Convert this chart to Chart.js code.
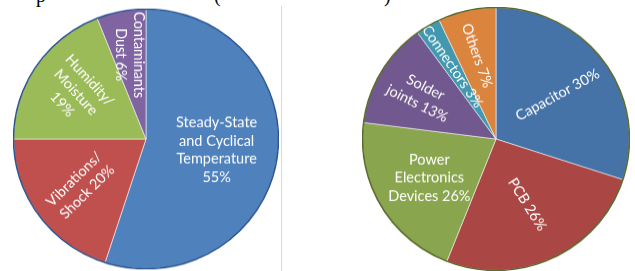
<!DOCTYPE html>
<html>
<head>
<meta charset="utf-8">
<script src="https://cdn.jsdelivr.net/npm/chart.js@4/dist/chart.umd.min.js"></script>
<style>
  body{margin:0;background:#fff;width:635px;height:271px;overflow:hidden;position:relative;}
  canvas{position:absolute;transform-origin:50% 50%;}
  .cut{position:absolute;font-family:"Liberation Serif",serif;font-size:20px;line-height:20px;color:#000;}
  #sep{position:absolute;left:281px;top:6px;width:1px;height:265px;background:#d9d9d9;}
</style>
</head>
<body>
<span class="cut" style="left:36px;top:-15px">p</span>
<span class="cut" style="left:214px;top:-15px">(</span>
<span class="cut" style="left:384px;top:-15px">)</span>
<div id="sep"></div>
<canvas id="izq" width="266" height="266" style="left:13px;top:6px;transform:scaleY(0.98)"></canvas>
<canvas id="der" width="268" height="268" style="left:362px;top:5px;transform:scaleY(0.985)"></canvas>
<script>
// causas de fallo (izquierda)
const causas = [["Steady-State","and Cyclical","Temperature","55%"],["Vibrations/","Shock 20%"],["Humidity/","Moisture","19%"],["Contaminants","Dust 6%"]];
const causasValores = [55,20,19,6];
const causasColores = ["#4F81BD","#C0504D","#9BBB59","#8064A2"];

// componentes (derecha)
const componentes = [["Capacitor 30%"],["PCB 26%"],["Power","Electronics","Devices 26%"],["Solder","joints 13%"],["Connectors 3%"],["Others 7%"]];
const componentesValores = [30,26,21,13,3,7];
const componentesColores = ["#4572A7","#AA4643","#89A54E","#71588F","#4198AF","#DB843D"];

// giro y distancia de cada etiqueta
const causasGiro = [0,-45,48,90];
const causasDist = [0.54,0.61,0.64,0.66];
const componentesGiro = [-29,58,0,27,56,71];
const componentesDist = [0.57,0.55,0.58,0.65,0.64,0.65];

const etiquetas = {
  id:'etiquetas',
  afterDatasetsDraw(chart, args, opts){
    const ctx = chart.ctx;
    const meta = chart.getDatasetMeta(0);
    const labels = chart.data.labels;
    meta.data.forEach((arc,i)=>{
      const p = arc.getProps(['x','y','startAngle','endAngle','outerRadius'],true);
      const mid = (p.startAngle+p.endAngle)/2;
      const r = p.outerRadius*opts.dist[i];
      ctx.save();
      ctx.translate(p.x+Math.cos(mid)*r, p.y+Math.sin(mid)*r);
      ctx.rotate(opts.giro[i]*Math.PI/180);
      ctx.fillStyle = "#fff";
      ctx.font = opts.fuente;
      ctx.textAlign = "center";
      ctx.textBaseline = "middle";
      const lineas = [].concat(labels[i]);
      lineas.forEach((t,k)=>ctx.fillText(t,0,(k-(lineas.length-1)/2)*opts.alto));
      ctx.restore();
    });
    // borde exterior
    const a = meta.data[0];
    ctx.save();
    ctx.beginPath();
    ctx.arc(a.x,a.y,a.outerRadius,0,Math.PI*2);
    ctx.strokeStyle = opts.aro;
    ctx.lineWidth = 1.5;
    ctx.stroke();
    ctx.restore();
  }
};

function tarta(id, labels, valores, colores, giro, dist, aro){
  return new Chart(document.getElementById(id).getContext('2d'), {
    type:'pie',
    data:{
      labels:labels,
      datasets:[{
        data:valores,
        backgroundColor:colores,
        borderColor:"rgba(255,255,255,0.55)",
        borderWidth:1
      }]
    },
    options:{
      responsive:false,
      animation:false,
      layout:{padding:0},
      plugins:{
        legend:{display:false},
        tooltip:{enabled:false},
        etiquetas:{giro:giro,dist:dist,aro:aro,fuente:"14.5px Lato",alto:18.5}
      }
    },
    plugins:[etiquetas]
  });
}

window.onload = ()=>{
  tarta('izq', causas, causasValores, causasColores, causasGiro, causasDist, "#2C5490");
  tarta('der', componentes, componentesValores, componentesColores, componentesGiro, componentesDist, "#5A6B2E");
};
</script>
</body>
</html>
